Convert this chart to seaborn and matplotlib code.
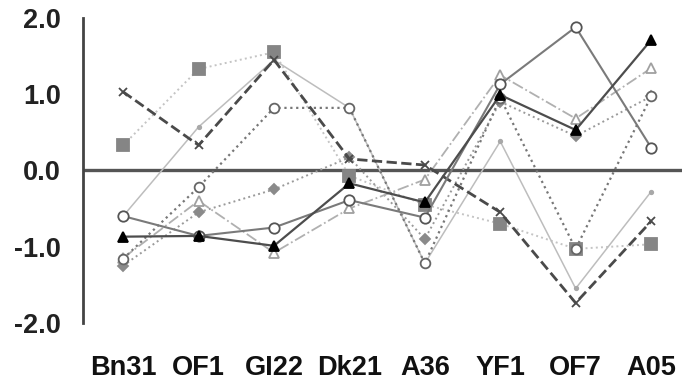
import numpy as np
import pandas as pd
import seaborn as sns
import matplotlib.pyplot as plt

categories = ["Bn31", "OF1", "GI22", "Dk21", "A36", "YF1", "OF7", "A05"]

tri_filled = [-0.87, -0.86, -0.99, -0.17, -0.42, 0.99, 0.53, 1.71]
circle_solid = [-0.60, -0.86, -0.75, -0.39, -0.62, 1.13, 1.88, 0.30]
circle_dotted = [-1.16, -0.22, 0.82, 0.82, -1.22, 0.95, -1.03, 0.97]
squares = [0.33, 1.33, 1.55, -0.07, -0.45, -0.70, -1.03, -0.97]
crosses = [1.03, 0.33, 1.45, 0.15, 0.07, -0.55, -1.74, -0.67]
tri_open = [-1.15, -0.40, -1.08, -0.50, -0.12, 1.25, 0.68, 1.34]
diamonds = [-1.25, -0.55, -0.25, 0.17, -0.90, 0.90, 0.45, 0.97]
dots = [-0.60, 0.57, 1.45, 0.82, -1.22, 0.38, -1.55, -0.28]

# line style, line colour, marker, face, edge, marker size, line width
styles = {
    "squares": (":", "#c4c4c4", "s", "#858585", "#858585", 8.5, 1.4),
    "dots": ("-", "#bdbdbd", ".", "#a8a8a8", "#a8a8a8", 5, 1.1),
    "diamonds": (":", "#9a9a9a", "D", "#8a8a8a", "#8a8a8a", 5, 1.4),
    "tri_open": ("-.", "#b0b0b0", "^", "white", "#a0a0a0", 7, 1.3),
    "circle_dotted": (":", "#777777", "o", "white", "#666666", 7, 1.6),
    "crosses": ("--", "#4a4a4a", "x", "#4a4a4a", "#4a4a4a", 5.5, 2.0),
    "circle_solid": ("-", "#7a7a7a", "o", "white", "#555555", 7.5, 1.5),
    "tri_filled": ("-", "#4d4d4d", "^", "black", "black", 7.5, 1.6),
}
series = {
    "squares": squares, "dots": dots, "diamonds": diamonds, "tri_open": tri_open,
    "circle_dotted": circle_dotted, "crosses": crosses,
    "circle_solid": circle_solid, "tri_filled": tri_filled,
}

sns.set_style("white")
plt.rcParams["font.family"] = ["Liberation Sans", "DejaVu Sans"]

fig = plt.figure(figsize=(6.82, 3.82), dpi=100)
ax = fig.add_axes([0.122, 0.155, 0.878, 0.798])

x = np.arange(len(categories))
for name, vals in series.items():
    ls, lc, mk, fc, ec, ms, lw = styles[name]
    df = pd.DataFrame({"x": x, "y": vals})
    sns.lineplot(data=df, x="x", y="y", ax=ax, color=lc, linestyle=ls, linewidth=lw,
                 marker=mk, markersize=ms, markerfacecolor=fc, markeredgecolor=ec,
                 markeredgewidth=1.3, zorder=3)

ax.axhline(0, color="#555555", linewidth=2.4, zorder=2)

ax.set_xlim(-0.53, 7.41)
ax.set_ylim(-2.0, 2.0)
ax.set_xticks(x)
ax.set_xticklabels(categories)
ax.set_yticks([-2, -1, 0, 1, 2])
ax.set_yticklabels(["-2.0", "-1.0", "0.0", "1.0", "2.0"])
ax.set_xlabel("")
ax.set_ylabel("")
for s in ["top", "right", "bottom"]:
    ax.spines[s].set_visible(False)
ax.spines["left"].set_color("#444444")
ax.spines["left"].set_linewidth(2.0)
ax.tick_params(axis="y", length=0, pad=16, labelsize=19.5, colors="#222222")
ax.tick_params(axis="x", length=0, pad=23, labelsize=19.5, colors="#111111")
for lab in ax.get_xticklabels() + ax.get_yticklabels():
    lab.set_fontweight("bold")

fig.savefig("out.png", dpi=100)
